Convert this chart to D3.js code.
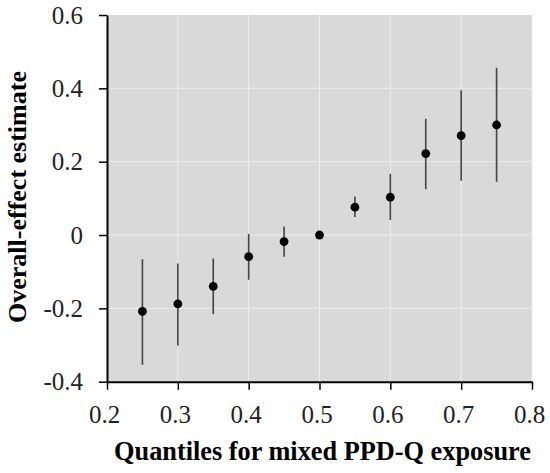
<!DOCTYPE html>
<html><head><meta charset="utf-8">
<script src="https://cdn.jsdelivr.net/npm/d3@7"></script>
<style>body{margin:0;background:#fff;}svg{display:block;}
svg text{font-family:'Liberation Serif','Times New Roman',serif;}</style>
</head><body>
<svg id="c" width="550" height="473"></svg>
<script>
const quantiles = [0.25,0.30,0.35,0.40,0.45,0.50,0.55,0.60,0.65,0.70,0.75];
const estimate  = [-0.208,-0.188,-0.140,-0.059,-0.018,0.000,0.076,0.103,0.222,0.271,0.300];
const lower     = [-0.354,-0.301,-0.216,-0.122,-0.059,0.000,0.049,0.041,0.125,0.148,0.145];
const upper     = [-0.066,-0.078,-0.064,0.003,0.023,0.000,0.105,0.167,0.317,0.395,0.456];
const xTicks = [0.2,0.3,0.4,0.5,0.6,0.7,0.8];
const yTicks = [-0.4,-0.2,0,0.2,0.4,0.6];
const xTickLabels = ["0.2","0.3","0.4","0.5","0.6","0.7","0.8"];
const yTickLabels = ["-0.4","-0.2","0","0.2","0.4","0.6"];
const xTitle = "Quantiles for mixed PPD-Q exposure";
const yTitle = "Overall-effect estimate";

const svg = d3.select("#c");
const L=107, R=532, T=15, B=381.7;
const x = d3.scaleLinear().domain([0.2,0.8]).range([L,R]);
const y = d3.scaleLinear().domain([-0.4,0.6]).range([B,T]);

svg.append("rect").attr("x",L).attr("y",T).attr("width",R-L).attr("height",B-T).attr("fill","#d9d9d9");
svg.append("g").selectAll("line").data(xTicks.slice(1)).join("line")
  .attr("x1",d=>x(d)).attr("x2",d=>x(d)).attr("y1",T).attr("y2",B)
  .attr("stroke","#ececec").attr("stroke-width",1);
svg.append("g").selectAll("line").data(yTicks.slice(1,-1)).join("line")
  .attr("x1",L).attr("x2",R).attr("y1",d=>y(d)).attr("y2",d=>y(d))
  .attr("stroke","#ececec").attr("stroke-width",1);

const font = "'Liberation Serif','Times New Roman',serif";
const xa = svg.append("g").attr("transform",`translate(0,${B})`)
  .call(d3.axisBottom(x).tickValues(xTicks).tickFormat((d,i)=>xTickLabels[i]).tickSize(8).tickSizeOuter(0));
const ya = svg.append("g").attr("transform",`translate(${L},0)`)
  .call(d3.axisLeft(y).tickValues(yTicks).tickFormat((d,i)=>yTickLabels[i]).tickSize(8).tickSizeOuter(0));
[xa,ya].forEach(a=>{
  a.attr("font-family",font).attr("font-size",25);
  a.select(".domain").attr("stroke","#000").attr("stroke-width",2);
  a.selectAll(".tick line").attr("stroke","#000").attr("stroke-width",1.5);
  a.selectAll(".tick text").style("font-family",font).style("font-size","25px").attr("fill","#222");
});
xa.selectAll(".tick text").attr("dy","0").attr("y",41).attr("x",-3);
ya.selectAll(".tick text").attr("x",-24).attr("dy","0.33em");

const idx = d3.range(quantiles.length);
svg.append("g").selectAll("line").data(idx.filter(i=>upper[i]!==lower[i])).join("line")
  .attr("x1",i=>x(quantiles[i])).attr("x2",i=>x(quantiles[i]))
  .attr("y1",i=>y(lower[i])).attr("y2",i=>y(upper[i]))
  .attr("stroke","#444").attr("stroke-width",1.6);
svg.append("g").selectAll("circle").data(idx).join("circle")
  .attr("cx",i=>x(quantiles[i])).attr("cy",i=>y(estimate[i])).attr("r",4.4).attr("fill","#000");

svg.append("text").attr("x",322.5).attr("y",460).attr("text-anchor","middle")
  .style("font-family",font).attr("font-weight","bold").style("font-size","26.3px").attr("fill","#000").text(xTitle);
svg.append("text").attr("transform",`translate(26,197) rotate(-90)`).attr("text-anchor","middle")
  .style("font-family",font).attr("font-weight","bold").style("font-size","26px").attr("fill","#000").text(yTitle);
</script>
</body></html>
